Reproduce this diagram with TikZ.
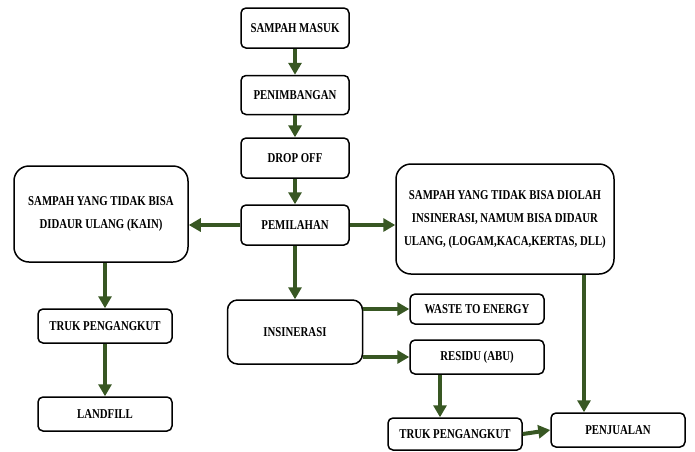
\documentclass[tikz,border=0pt]{standalone}
\usepackage{fontspec}
\setmainfont{Liberation Serif}[FakeStretch=0.8]
\usetikzlibrary{arrows.meta}

\definecolor{flowgreen}{RGB}{56,87,35}

\tikzset{
  box/.style={draw, line width=1.5pt, rounded corners=5pt, inner sep=0pt, align=center,
    font=\fontsize{13.5}{23}\selectfont\bfseries},
  bigbox/.style={box, rounded corners=15pt},
  flow/.style={draw=flowgreen, line width=4pt, -{Triangle[length=12pt,width=13pt]}, color=flowgreen}
}

\begin{document}
\begin{tikzpicture}[x=1pt,y=-1pt]

    \useasboundingbox (0,0) rectangle (695,451);

    %main line
    \node[box, minimum width=108, minimum height=40] (masuk) at (295,28) {SAMPAH MASUK};
    \node[box, minimum width=108, minimum height=39] (timbang) at (295,95) {PENIMBANGAN};
    \node[box, minimum width=108, minimum height=40] (dropoff) at (295,158) {DROP OFF};
    \node[box, minimum width=108, minimum height=40] (pilah) at (295,225) {PEMILAHAN};

    %left branch
    \node[bigbox, minimum width=174, minimum height=96] (kain) at (101,214)
      {SAMPAH YANG TIDAK BISA\\DIDAUR ULANG (KAIN)};
    \node[box, minimum width=134, minimum height=34] (trukA) at (105,326) {TRUK PENGANGKUT};
    \node[box, minimum width=134, minimum height=34] (landfill) at (105,414) {LANDFILL};

    %right branch
    \node[bigbox, minimum width=218, minimum height=110] (daur) at (505,219)
      {SAMPAH YANG TIDAK BISA DIOLAH\\INSINERASI, NAMUM BISA DIDAUR\\ULANG, (LOGAM,KACA,KERTAS, DLL)};

    %middle branch
    \node[box, rounded corners=10pt, minimum width=135, minimum height=64] (insin) at (295,332) {INSINERASI};
    \node[box, minimum width=134, minimum height=30] (energy) at (477,309) {WASTE TO ENERGY};
    \node[box, minimum width=134, minimum height=34] (residu) at (477,357) {RESIDU (ABU)};
    \node[box, minimum width=134, minimum height=32] (trukB) at (455,434) {TRUK PENGANGKUT};
    \node[box, minimum width=134, minimum height=34] (jual) at (618,430) {PENJUALAN};

    %arrows
    \draw[flow] (masuk) -- (timbang);
    \draw[flow] (timbang) -- (dropoff);
    \draw[flow] (dropoff) -- (pilah);
    \draw[flow] (pilah.west) -- (kain.east |- pilah.west);
    \draw[flow] (pilah.east) -- (daur.west |- pilah.east);
    \draw[flow] (pilah) -- (insin);
    \draw[flow] (trukA.north |- kain.south) -- (trukA.north);
    \draw[flow] (trukA) -- (landfill);
    \draw[flow] (insin.east |- energy.west) -- (energy.west);
    \draw[flow] (insin.east |- residu.west) -- (residu.west);
    \draw[flow] ([xshift=-37pt]residu.south) -- ([xshift=-37pt]residu.south |- trukB.north);
    \draw[flow] ([xshift=79pt]daur.south) -- ([xshift=79pt]daur.south |- jual.north);
    \draw[flow] (trukB.east) -- (jual.west);

  \end{tikzpicture}
\end{document}
